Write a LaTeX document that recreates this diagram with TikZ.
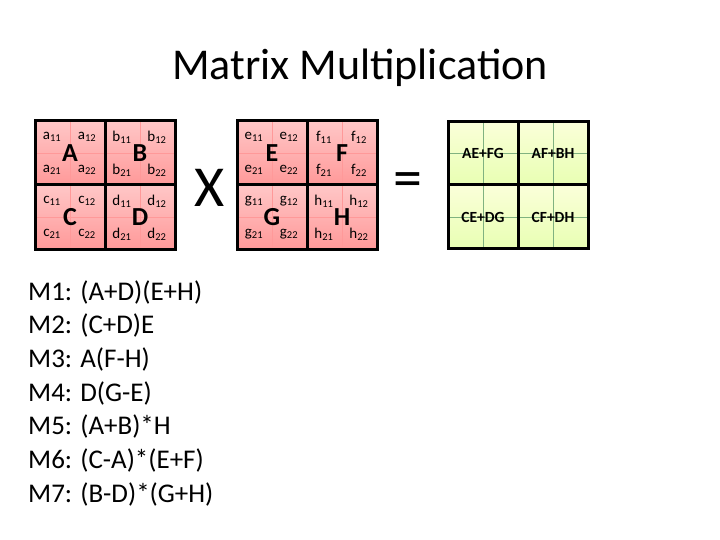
\documentclass[tikz,border=0pt]{standalone}
\usepackage{fontspec}
\setmainfont{Carlito}
\begin{document}
\begin{tikzpicture}[x=1pt,y=-1pt,
  thin line/.style={draw=red!40!white,line width=0.6pt},
  thin green/.style={draw=green!40!black!50,line width=0.6pt},
  thick line/.style={draw=black,line width=3pt},
  sub/.style={font=\fontsize{15}{15}\selectfont,inner sep=0pt},
  big/.style={font=\fontsize{26}{26}\selectfont\bfseries,inner sep=0pt},
  res/.style={font=\fontsize{15.5}{15.5}\selectfont\bfseries,inner sep=0pt},
  mline/.style={font=\fontsize{27}{27}\selectfont,anchor=west,inner sep=0pt}]
\useasboundingbox (0,0) rectangle (720,540);
\node[font=\fontsize{44}{44}\selectfont] (title) at (360,68) {Matrix Multiplication};
\foreach \ox/\oy/\LL/\lw [count=\i] in {35/121/A/a,105/121/B/b,35/185/C/c,105/185/D/d,
  237/121/E/e,307/121/F/f,237/185/G/g,307/185/H/h}{
  \shade[top color=red!22!white,bottom color=red!40!white] (\ox,\oy) rectangle ++(70,64);
  \draw[thin line] (\ox+35,\oy) -- ++(0,64) (\ox,\oy+32) -- ++(70,0);
  \node[sub] (s\i a) at (\ox+17,\oy+16) {\lw\textsubscript{11}};
  \node[sub] (s\i b) at (\ox+52,\oy+16) {\lw\textsubscript{12}};
  \node[sub] (s\i c) at (\ox+17,\oy+49) {\lw\textsubscript{21}};
  \node[sub] (s\i d) at (\ox+52,\oy+49) {\lw\textsubscript{22}};
  \node[big] (L\i) at (\ox+35,\oy+32) {\LL};
}
\foreach \ox/\oy/\t [count=\i] in {448/122/AE+FG,518/122/AF+BH,448/186/CE+DG,518/186/CF+DH}{
  \shade[top color=green!12!yellow!15!white,bottom color=green!30!yellow!30!white] (\ox,\oy) rectangle ++(70,63);
  \draw[thin green] (\ox+35,\oy) -- ++(0,63) (\ox,\oy+31.5) -- ++(70,0);
  \node[res] (r\i) at (\ox+35,\oy+31.5) {\t};
}
\foreach \x in {35,237}{
  \draw[thick line] (\x,121) rectangle ++(140,128);
  \draw[thick line] (\x+70,121) -- ++(0,128) (\x,185) -- ++(140,0);
}
\draw[thick line] (448,122) rectangle (588,248);
\draw[thick line] (518,122) -- (518,248) (448,185) -- (588,185);
\node[font=\fontsize{58}{58}\selectfont] (times) at (210,188) {X};
\node[font=\fontsize{58}{58}\selectfont] (eq) at (408,185) {=};
\foreach \t [count=\i] in {M1: (A+D)(E+H),M2: (C+D)E,M3: A(F-H),M4: D(G-E),M5: (A+B)*H,M6: (C-A)*(E+F),M7: (B-D)*(G+H)}{
  \node[mline] (m\i) at (28,292+33.7*\i-33.7) {\t};
}
\end{tikzpicture}
\end{document}
